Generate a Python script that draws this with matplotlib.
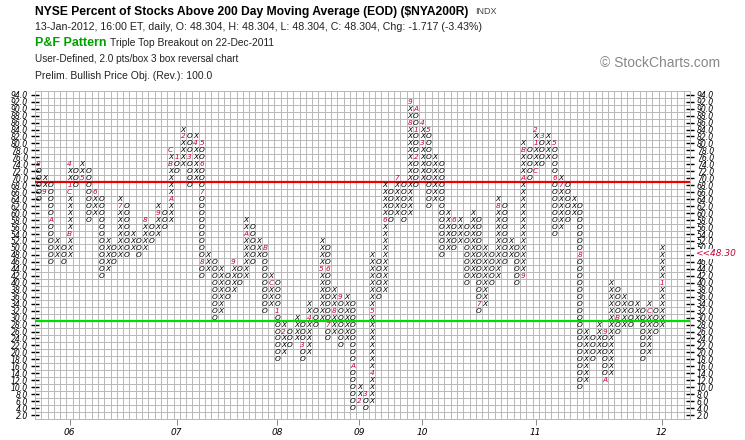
import numpy as np
import matplotlib.pyplot as plt

# Point & Figure columns (2.0 pts/box, 3 box reversal), first column is O then alternating
box_low = [64, 66, 46, 48, 46, 48, 68, 70, 58, 60,
           42, 44, 46, 48, 48, 50, 48, 50, 52, 54,
           56, 58, 72, 74, 68, 70, 42, 44, 30, 32,
           36, 38, 40, 42, 46, 48, 32, 34, 18, 20,
           22, 24, 18, 20, 28, 30, 24, 26, 22, 24,
           4, 6, 4, 6, 36, 38, 58, 60, 58, 60,
           68, 70, 62, 64, 48, 50, 50, 52, 40, 42,
           32, 34, 40, 42, 46, 48, 40, 42, 70, 72,
           74, 76, 54, 56, 58, 60, 10, 12, 18, 20,
           12, 14, 26, 28, 28, 30, 18, 20, 26, 28]
box_high = [74, 70, 68, 52, 50, 74, 72, 74, 72, 66,
            64, 52, 50, 64, 62, 54, 52, 58, 56, 62,
            60, 78, 76, 84, 82, 82, 80, 48, 46, 44,
            42, 46, 44, 58, 56, 52, 50, 42, 40, 28,
            26, 30, 28, 34, 32, 52, 50, 38, 36, 36,
            34, 10, 8, 48, 46, 68, 66, 70, 68, 92,
            90, 86, 84, 76, 74, 60, 58, 58, 56, 60,
            58, 50, 48, 64, 62, 52, 50, 80, 78, 84,
            82, 82, 80, 70, 68, 64, 62, 26, 24, 28,
            26, 40, 38, 36, 34, 34, 32, 34, 32, 50]
first_col = 'O'

# month markers (column, box, month code)
marker_col = [0, 1, 2, 5, 5, 5, 5, 7, 9, 13, 17, 19, 21, 21, 21, 22, 23, 24, 25,
              26, 26, 26, 26, 31, 33, 36, 37, 38, 39, 42, 43, 45, 46, 46, 47, 48,
              50, 51, 52, 53, 53, 55, 57, 59, 59, 60, 60, 60, 61, 61, 62, 66, 70,
              73, 77, 77, 77, 79, 79, 79, 80, 82, 82, 83, 86, 90, 90, 92, 97, 99]
marker_val = [74, 66, 58, 54, 66, 68, 74, 70, 66, 62, 58, 60, 64, 74, 78, 76, 82, 76, 80,
              80, 74, 66, 46, 46, 54, 50, 40, 32, 26, 22, 30, 44, 44, 28, 32, 36,
              16, 6, 8, 14, 32, 58, 70, 86, 92, 90, 84, 76, 80, 86, 84, 58, 34,
              62, 42, 70, 78, 72, 80, 84, 82, 80, 70, 68, 48, 26, 12, 30, 32, 40]
marker_txt = ['8', '9', 'A', 'B', 'C', '1', '4', '5', '6', '7', '8', '9', 'A', 'B', 'C', '1', '2', '3', '4',
              '5', '6', '7', '8', '9', 'A', 'B', 'C', '1', '2', '3', '4', '5', '6', '7', '8', '9',
              'A', '2', '3', '4', '5', '6', '7', '8', '9', 'A', '1', '2', '3', '4', '5', '6', '7',
              '8', '9', 'A', 'B', 'C', '1', '2', '3', '5', '6', '7', '8', '9', 'A', 'B', 'C', '1']

year_cols = [5, 22, 38, 51, 61, 79, 99]
year_labels = ['06', '07', '08', '09', '10', '11', '12']

red_level = 69
green_level = 29
last_value = 48.30

markers = {(c, v): t for c, v, t in zip(marker_col, marker_val, marker_txt)}
mark_color = '#cc0033'

fig = plt.figure(figsize=(7.45, 4.4), dpi=100)
ax = fig.add_axes([35 / 745, 21.4 / 440, 655 / 745, 327.4 / 440])
ax.set_xlim(-0.5, 103.5)
ax.set_ylim(1, 95)

# grid: one cell per box
ax.set_xticks(np.arange(-0.5, 104, 1), minor=True)
ax.set_yticks(np.arange(1, 96, 2), minor=True)
ax.grid(which='minor', color='#b8b8b8', lw=0.7)
ax.tick_params(which='minor', length=0)
for s in ax.spines.values():
    s.set_color('#b8b8b8')
    s.set_linewidth(0.7)

ax.axhline(red_level, color='#ee0000', lw=1.6, zorder=3)
ax.axhline(green_level, color='#00dd00', lw=1.6, zorder=3)

for i, (lo, hi) in enumerate(zip(box_low, box_high)):
    is_x = (i % 2 == 1) if first_col == 'O' else (i % 2 == 0)
    for v in range(lo, hi + 1, 2):
        if (i, v) in markers:
            ax.text(i, v, markers[(i, v)], ha='center', va='center', fontsize=5.3,
                    style='italic', color=mark_color, zorder=4)
        else:
            ax.text(i, v, 'X' if is_x else 'O', ha='center', va='center', fontsize=5.3,
                    style='italic', color='black', zorder=4)

yt = np.arange(2, 95, 2)
ax.set_yticks(yt)
ax.set_yticklabels(['%.1f' % v for v in yt])
ax.tick_params(axis='y', which='major', left=True, right=True, labelleft=True, labelright=True,
               direction='inout', length=6, width=1, labelsize=5.6, pad=2)
for t in ax.yaxis.get_major_ticks():
    t.label1.set_fontstyle('italic')
    t.label2.set_fontstyle('italic')

ax.set_xticks(year_cols)
ax.set_xticklabels(year_labels, fontstyle='italic', fontsize=6.5)
ax.tick_params(axis='x', which='major', direction='out', length=4, width=0.7, color='#888888', pad=3)

# last value on the right scale
ax.text(103.5 + 0.8, last_value, '<<48.30', ha='left', va='center', fontsize=6.5,
        style='italic', color=mark_color, clip_on=False,
        bbox=dict(facecolor='white', edgecolor='none', pad=0.6))

def fy(px):
    return 1 - px / 440

fig.text(35 / 745, fy(12), 'NYSE Percent of Stocks Above 200 Day Moving Average (EOD) ($NYA200R)',
         fontsize=8.7, weight='bold', family='Liberation Sans', va='center')
fig.text(475 / 745, fy(12), 'INDX', fontsize=6.5, color='#444444', family='Liberation Sans', va='center')
fig.text(35 / 745, fy(27), '13-Jan-2012, 16:00 ET, daily, O: 48.304, H: 48.304, L: 48.304, '
         'C: 48.304, Chg: -1.717 (-3.43%)', fontsize=7.7, color='#222222', family='Liberation Sans', va='center')
fig.text(35 / 745, fy(43), 'P&F Pattern', fontsize=9, weight='bold', color='#00a000',
         family='Liberation Sans', va='center')
fig.text(110 / 745, fy(43), 'Triple Top Breakout on 22-Dec-2011', fontsize=7.4, color='#222222',
         family='Liberation Sans', va='center')
fig.text(35 / 745, fy(59), 'User-Defined, 2.0 pts/box 3 box reversal chart', fontsize=7.2,
         color='#222222', family='Liberation Sans', va='center')
fig.text(35 / 745, fy(76), 'Prelim. Bullish Price Obj. (Rev.): 100.0', fontsize=7.5,
         color='#222222', family='Liberation Sans', va='center')
fig.text(600 / 745, fy(63), '\u00a9 StockCharts.com', fontsize=10, color='#888888',
         family='Liberation Sans', va='center')

fig.savefig('out.png', dpi=100)
